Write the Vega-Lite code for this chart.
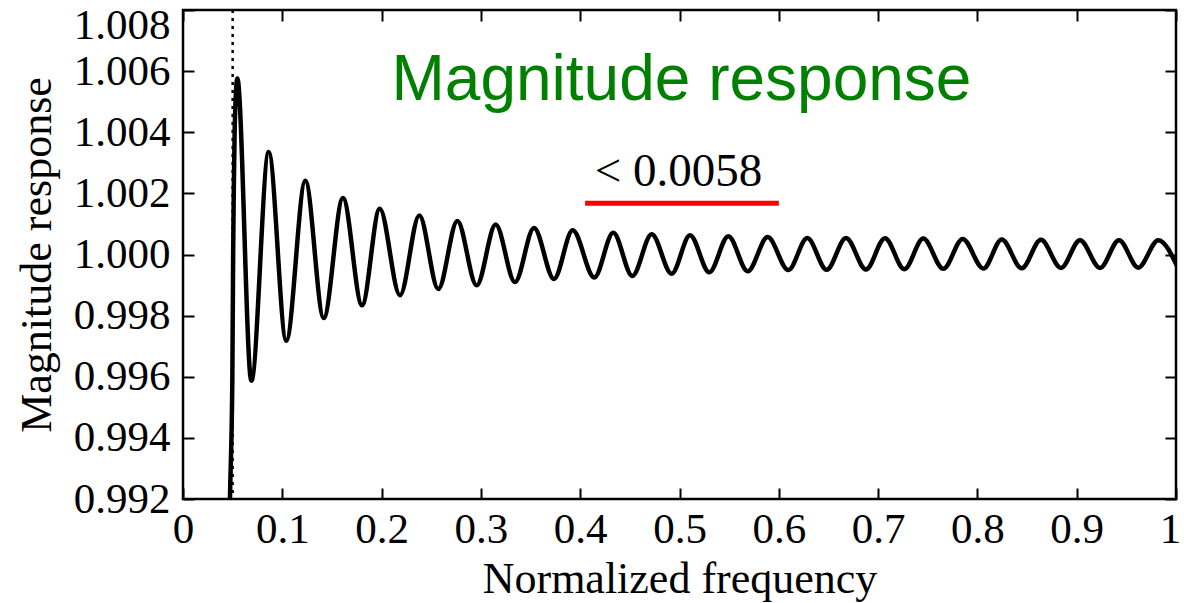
{
  "$schema": "https://vega.github.io/schema/vega-lite/v6.json",
  "width": 993,
  "height": 489,
  "autosize": {"type": "none"},
  "padding": {"left": 183, "top": 10, "right": 8, "bottom": 104},
  "background": "white",
  "config": {
    "view": {"stroke": "black", "strokeWidth": 2.5},
    "axis": {
      "grid": false,
      "domain": false,
      "tickColor": "black",
      "tickWidth": 2,
      "tickSize": -11,
      "labelColor": "black",
      "titleColor": "black",
      "labelFont": "Liberation Serif",
      "titleFont": "Liberation Serif",
      "labelFontSize": 43,
      "titleFontSize": 44,
      "titleFontWeight": "normal",
      "labelOverlap": false
    }
  },
  "datasets": {
    "curve": [
      {"f": 0.0440, "m": 0.9850},
      {"f": 0.0473, "m": 0.9920},
      {"f": 0.0497, "m": 0.9960},
      {"f": 0.0505, "m": 1.0000},
      {"f": 0.0511, "m": 1.0020},
      {"f": 0.0521, "m": 1.0042},
      {"f": 0.0547, "m": 1.00576},
      {"f": 0.0688, "m": 0.99587},
      {"f": 0.0863, "m": 1.00335},
      {"f": 0.1040, "m": 0.99718},
      {"f": 0.1232, "m": 1.00241},
      {"f": 0.1417, "m": 0.99792},
      {"f": 0.1611, "m": 1.00185},
      {"f": 0.1803, "m": 0.99834},
      {"f": 0.1981, "m": 1.00150},
      {"f": 0.2185, "m": 0.99867},
      {"f": 0.2380, "m": 1.00128},
      {"f": 0.2571, "m": 0.99887},
      {"f": 0.2763, "m": 1.00110},
      {"f": 0.2957, "m": 0.99899},
      {"f": 0.3149, "m": 1.00098},
      {"f": 0.3343, "m": 0.99910},
      {"f": 0.3535, "m": 1.00087},
      {"f": 0.3736, "m": 0.99920},
      {"f": 0.3924, "m": 1.00079},
      {"f": 0.4142, "m": 0.99925},
      {"f": 0.4333, "m": 1.00071},
      {"f": 0.4525, "m": 0.99930},
      {"f": 0.4720, "m": 1.00066},
      {"f": 0.4921, "m": 0.99937},
      {"f": 0.5106, "m": 1.00063},
      {"f": 0.5300, "m": 0.99942},
      {"f": 0.5492, "m": 1.00060},
      {"f": 0.5687, "m": 0.99945},
      {"f": 0.5888, "m": 1.00057},
      {"f": 0.6096, "m": 0.99949},
      {"f": 0.6287, "m": 1.00054},
      {"f": 0.6482, "m": 0.99950},
      {"f": 0.6677, "m": 1.00054},
      {"f": 0.6878, "m": 0.99951},
      {"f": 0.7069, "m": 1.00053},
      {"f": 0.7264, "m": 0.99952},
      {"f": 0.7455, "m": 1.00052},
      {"f": 0.7657, "m": 0.99953},
      {"f": 0.7852, "m": 1.00051},
      {"f": 0.8060, "m": 0.99954},
      {"f": 0.8245, "m": 1.00049},
      {"f": 0.8446, "m": 0.99955},
      {"f": 0.8640, "m": 1.00048},
      {"f": 0.8842, "m": 0.99956},
      {"f": 0.9033, "m": 1.00047},
      {"f": 0.9235, "m": 0.99956},
      {"f": 0.9426, "m": 1.00047},
      {"f": 0.9620, "m": 0.99957},
      {"f": 0.9822, "m": 1.00047},
      {"f": 1.0018, "m": 0.99957}
    ],
    "cutoff": [{"f": 0.05}],
    "bar": [{"f": 0.405, "f2": 0.6, "m": 1.00168}],
    "titleText": [{"f": 0.502, "m": 1.00505, "t": "Magnitude response"}],
    "bound": [{"f": 0.499, "m": 1.00224, "t": "< 0.0058"}]
  },
  "resolve": {"scale": {"x": "independent", "y": "independent"}},
  "layer": [
    {
      "layer": [
        {
          "data": {"name": "curve"},
          "mark": {"type": "line", "interpolate": "monotone", "color": "black", "strokeWidth": 4.5, "clip": true},
          "encoding": {
            "x": {
              "field": "f",
              "type": "quantitative",
              "scale": {"domain": [0, 1], "nice": false, "zero": false},
              "axis": {
                "orient": "bottom",
                "values": [0, 0.1, 0.2, 0.3, 0.4, 0.5, 0.6, 0.7, 0.8, 0.9, 1],
                "format": "~g",
                "labelFlush": false,
                "labelPadding": 20,
                "labelOffset": {"condition": {"test": "datum.value > 0.99", "value": -6}, "value": 0},
                "title": "Normalized frequency",
                "titlePadding": 6
              }
            },
            "y": {
              "field": "m",
              "type": "quantitative",
              "scale": {"domain": [0.992, 1.008], "nice": false, "zero": false},
              "axis": {
                "orient": "left",
                "values": [0.992, 0.994, 0.996, 0.998, 1.0, 1.002, 1.004, 1.006, 1.008],
                "format": ".3f",
                "labelFlush": false,
                "labelPadding": 24,
                "labelBaseline": "middle",
                "labelOffset": {"condition": {"test": "datum.value > 1.0079", "value": 15}, "value": 0},
                "title": "Magnitude response",
                "titlePadding": 14
              }
            }
          }
        },
        {
          "data": {"name": "cutoff"},
          "mark": {"type": "rule", "color": "black", "strokeWidth": 2.5, "strokeDash": [3, 5]},
          "encoding": {"x": {"field": "f", "type": "quantitative"}}
        },
        {
          "data": {"name": "bar"},
          "mark": {"type": "rule", "color": "#ff0000", "strokeWidth": 5},
          "encoding": {
            "x": {"field": "f", "type": "quantitative"},
            "x2": {"field": "f2"},
            "y": {"field": "m", "type": "quantitative"}
          }
        },
        {
          "data": {"name": "titleText"},
          "mark": {"type": "text", "font": "Liberation Sans", "fontSize": 64, "color": "#008000", "align": "center", "baseline": "alphabetic"},
          "encoding": {
            "x": {"field": "f", "type": "quantitative"},
            "y": {"field": "m", "type": "quantitative"},
            "text": {"field": "t"}
          }
        },
        {
          "data": {"name": "bound"},
          "mark": {"type": "text", "font": "Liberation Serif", "fontSize": 47, "color": "black", "align": "center", "baseline": "alphabetic"},
          "encoding": {
            "x": {"field": "f", "type": "quantitative"},
            "y": {"field": "m", "type": "quantitative"},
            "text": {"field": "t"}
          }
        }
      ]
    },
    {
      "data": {"name": "cutoff"},
      "mark": {"type": "point", "opacity": 0},
      "encoding": {
        "x": {
          "field": "f",
          "type": "quantitative",
          "scale": {"domain": [0, 1], "nice": false, "zero": false},
          "axis": {"orient": "top", "values": [0, 0.1, 0.2, 0.3, 0.4, 0.5, 0.6, 0.7, 0.8, 0.9, 1], "labels": false, "title": null}
        },
        "y": {
          "datum": 1.0,
          "type": "quantitative",
          "scale": {"domain": [0.992, 1.008], "nice": false, "zero": false},
          "axis": {"orient": "right", "values": [0.992, 0.994, 0.996, 0.998, 1.0, 1.002, 1.004, 1.006, 1.008], "labels": false, "title": null}
        }
      }
    }
  ]
}
